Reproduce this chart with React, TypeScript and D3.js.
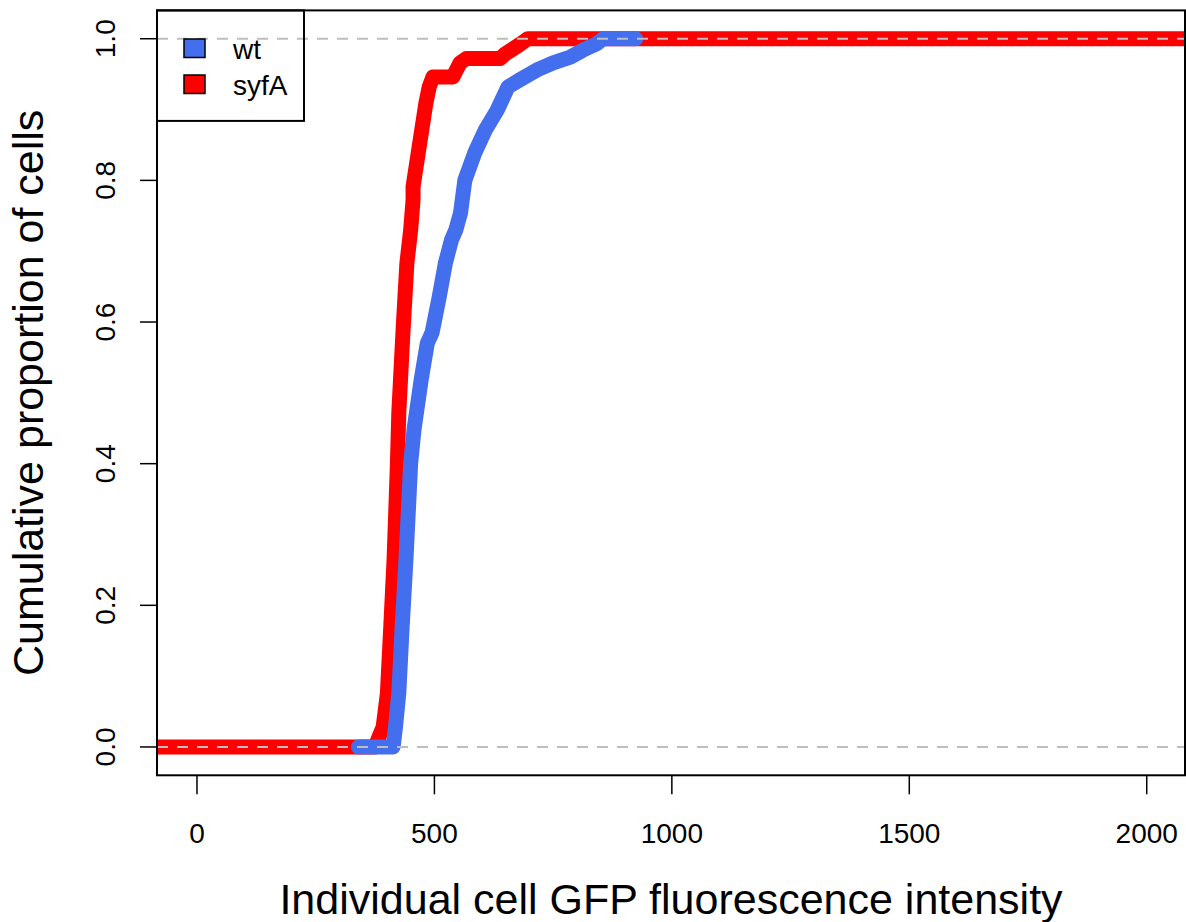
import React from "react";
import * as d3 from "d3";

// ---- data ----
const xTicks = [0, 500, 1000, 1500, 2000];
const yTicks = [0, 0.2, 0.4, 0.6, 0.8, 1.0];
const yTickLabels = ["0.0", "0.2", "0.4", "0.6", "0.8", "1.0"];

const wtX = [340, 413, 418, 425, 432, 440, 450, 457, 472, 485, 495, 510, 523, 536, 545, 555, 564, 585, 607, 632, 655, 680, 716, 750, 786, 813, 842, 855, 924];
const wtY = [0, 0, 0.028, 0.076, 0.169, 0.264, 0.401, 0.448, 0.518, 0.57, 0.585, 0.635, 0.683, 0.716, 0.73, 0.754, 0.8, 0.839, 0.871, 0.899, 0.932, 0.942, 0.956, 0.966, 0.974, 0.984, 0.993, 1.0, 1.0];

const syfAX = [-120, 375, 385, 392, 401, 408, 415, 422, 425, 434, 442, 450, 455, 455, 466, 482, 489, 497, 539, 554, 567, 638, 648, 664, 680, 697, 2200];
const syfAY = [0, 0, 0.017, 0.028, 0.076, 0.169, 0.264, 0.398, 0.472, 0.589, 0.683, 0.73, 0.772, 0.791, 0.839, 0.909, 0.932, 0.946, 0.946, 0.966, 0.972, 0.972, 0.978, 0.985, 0.992, 1.0, 1.0];

const seriesNames = ["wt", "syfA"];
const seriesColors = ["#436EEE", "#FF0000"];

const xTitle = "Individual cell GFP fluorescence intensity";
const yTitle = "Cumulative proportion of cells";

export default function App() {
  const W = 1186;
  const H = 922;
  const left = 157, right = 1185, top = 10.4, bottom = 775.3;
  const x = d3.scaleLinear().domain([-84.2, 2080.6]).range([left, right]);
  const y = d3.scaleLinear().domain([-0.04, 1.04]).range([bottom, top]);

  const line = d3
    .line<[number, number]>()
    .x((d) => x(d[0]))
    .y((d) => y(d[1]));

  const wtPts: [number, number][] = wtX.map((v, i) => [v, wtY[i]]);
  const syPts: [number, number][] = syfAX.map((v, i) => [v, syfAY[i]]);

  const font = "'Liberation Sans', Arial, Helvetica, sans-serif";

  return (
    <svg
      width={W}
      height={H}
      style={{ position: "absolute", left: 0, top: 0, background: "#fff" }}
      fontFamily={font}
    >
      <defs>
        <clipPath id="plotclip">
          <rect x={left} y={top} width={right - left} height={bottom - top} />
        </clipPath>
      </defs>
      <rect x={0} y={0} width={W} height={H} fill="#fff" />

      <g clipPath="url(#plotclip)">
        <path
          d={line(syPts) || ""}
          fill="none"
          stroke={seriesColors[1]}
          strokeWidth={15}
          strokeLinecap="round"
          strokeLinejoin="round"
        />
        <path
          d={line(wtPts) || ""}
          fill="none"
          stroke={seriesColors[0]}
          strokeWidth={15}
          strokeLinecap="round"
          strokeLinejoin="round"
        />
        {[0, 1].map((v) => (
          <line
            key={v}
            x1={left}
            x2={right}
            y1={y(v)}
            y2={y(v)}
            stroke="#BEBEBE"
            strokeWidth={2}
            strokeDasharray="11 9"
          />
        ))}
      </g>

      {/* plot box */}
      <rect
        x={left}
        y={top}
        width={right - left}
        height={bottom - top}
        fill="none"
        stroke="#000"
        strokeWidth={2}
      />

      {/* x axis */}
      {xTicks.map((t) => (
        <g key={t}>
          <line x1={x(t)} x2={x(t)} y1={bottom} y2={bottom + 19} stroke="#000" strokeWidth={1.5} />
          <text x={x(t)} y={843} fontSize={28} textAnchor="middle" fill="#000">
            {t}
          </text>
        </g>
      ))}

      {/* y axis */}
      {yTicks.map((t, i) => (
        <g key={t}>
          <line x1={left - 17} x2={left} y1={y(t)} y2={y(t)} stroke="#000" strokeWidth={1.5} />
          <text
            transform={`translate(115,${y(t)}) rotate(-90)`}
            fontSize={28}
            textAnchor="middle"
            fill="#000"
          >
            {yTickLabels[i]}
          </text>
        </g>
      ))}

      {/* titles */}
      <text x={(left + right) / 2} y={914} fontSize={43} textAnchor="middle" fill="#000">
        {xTitle}
      </text>
      <text
        transform={`translate(43,${(top + bottom) / 2}) rotate(-90)`}
        fontSize={43}
        textAnchor="middle"
        fill="#000"
      >
        {yTitle}
      </text>

      {/* legend */}
      <rect x={left} y={top} width={147} height={110.5} fill="none" stroke="#000" strokeWidth={2} />
      {seriesNames.map((n, i) => (
        <g key={n}>
          <rect
            x={184}
            y={39 + i * 36}
            width={21}
            height={18.5}
            fill={seriesColors[i]}
            stroke="#000"
            strokeWidth={1.5}
          />
          <text x={233} y={58.5 + i * 36} fontSize={28} fill="#000">
            {n}
          </text>
        </g>
      ))}
    </svg>
  );
}
